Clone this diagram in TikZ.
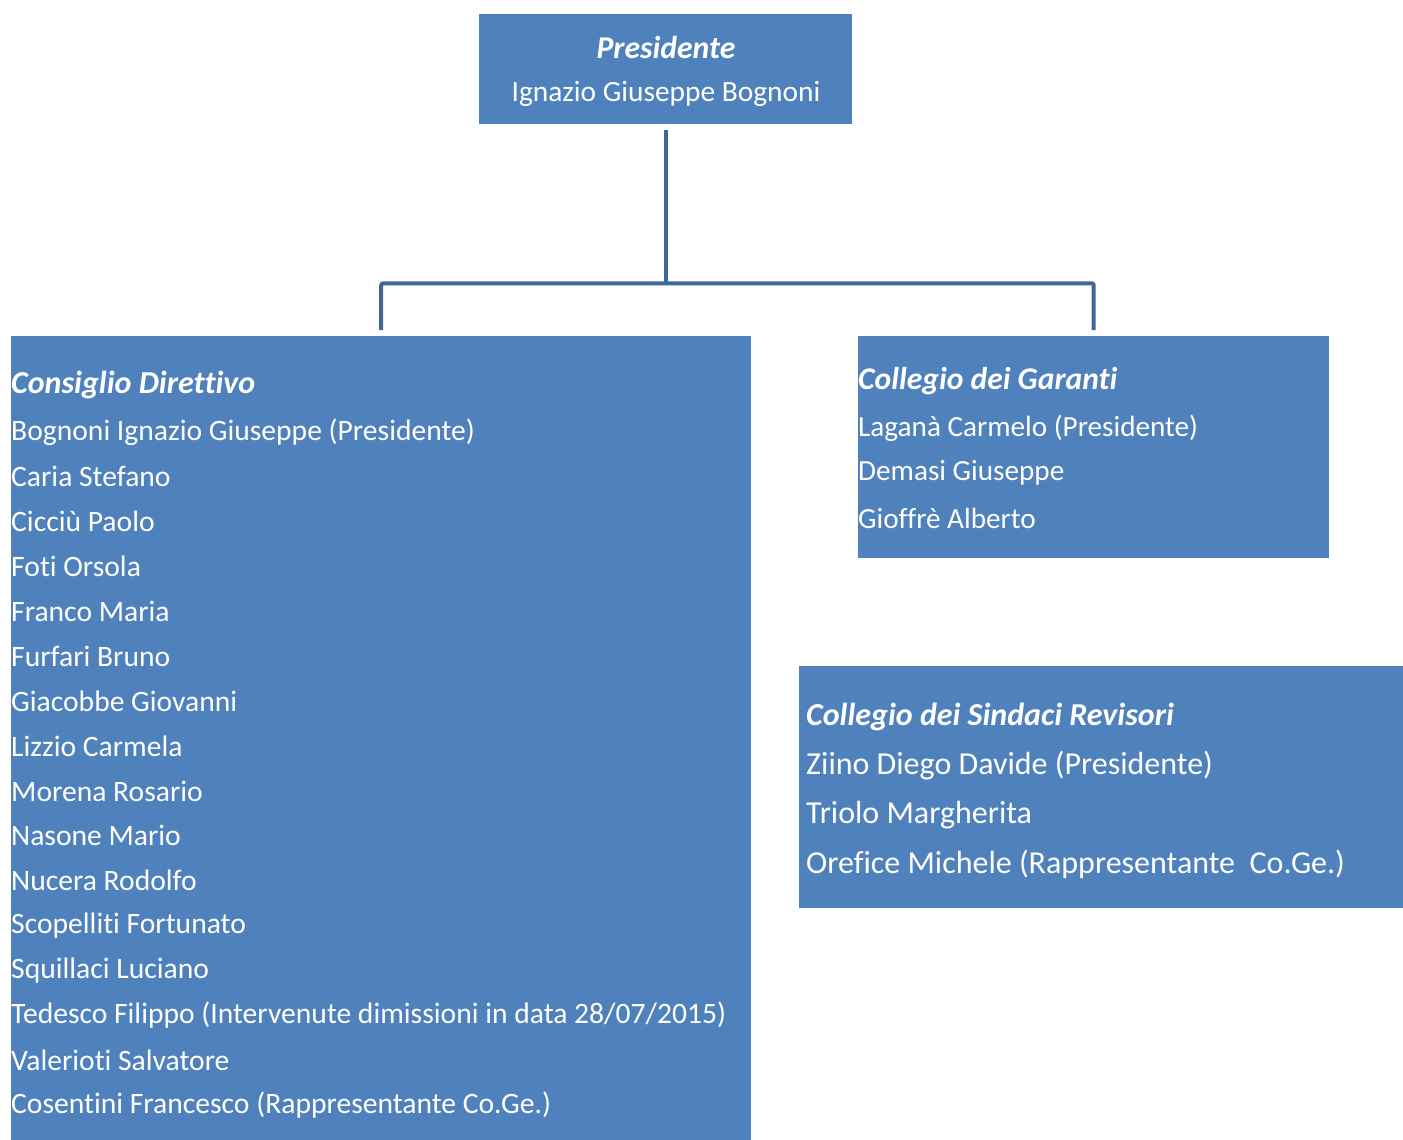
\documentclass[tikz,border=0pt]{standalone}
\usepackage{fontspec}
\setmainfont[Ligatures=NoCommon]{Carlito}
\definecolor{boxblue}{HTML}{4F81BD}
\definecolor{lineblue}{HTML}{3F6898}
\newcommand{\fsz}[1]{\fontsize{#1}{#1}\selectfont}
\begin{document}
\begin{tikzpicture}[x=1pt,y=-1pt,
  box/.style={fill=boxblue, draw=none, inner sep=0pt, anchor=north west},
  txt/.style={text=white, inner sep=0pt, anchor=west, font=\fsz{29.5}},
  ttl/.style={text=white, inner sep=0pt, anchor=west, font=\fsz{32}\bfseries\itshape},
  conn/.style={draw=lineblue, line width=4pt, rounded corners=2pt}]
\useasboundingbox (0,0) rectangle (1403,1140);
% boxes
\node[box, minimum width=373pt, minimum height=110pt] (pres) at (479,14) {};
\node[box, minimum width=740pt, minimum height=804pt] (cons) at (11,336) {};
\node[box, minimum width=471pt, minimum height=222pt] (gar) at (858,336) {};
\node[box, minimum width=604pt, minimum height=242pt] (sind) at (799,666) {};
% president text
\node[ttl, anchor=center, font=\fsz{31.7}\bfseries\itshape] (pt) at (666,47) {Presidente};
\node[txt, anchor=center, font=\fsz{29.4}] (pn) at (666,94) {Ignazio Giuseppe Bognoni};
% connectors
\path (pres.south) ++(0,159) coordinate (bus);
\draw[conn] ([yshift=-6pt]pres.south) -- (bus);
\draw[conn] ([yshift=6pt]cons.north) |- (bus) -| ([yshift=6pt]gar.north);
% Consiglio Direttivo
\node[ttl] (c0) at (11,385) {Consiglio Direttivo};
\foreach \t [count=\i from 0] in {
  Bognoni Ignazio Giuseppe (Presidente),
  Caria Stefano,
  Cicciù Paolo,
  Foti Orsola,
  Franco Maria,
  Furfari Bruno,
  Giacobbe Giovanni,
  Lizzio Carmela,
  Morena Rosario,
  Nasone Mario,
  Nucera Rodolfo,
  Scopelliti Fortunato,
  Squillaci Luciano,
  Tedesco Filippo (Intervenute dimissioni in data 28/07/2015),
  Valerioti Salvatore,
  Cosentini Francesco (Rappresentante Co.Ge.)}
  \node[txt, font=\fsz{29.6}] (c\i x) at (11,432+44.87*\i) {\t};
% Collegio dei Garanti
\node[ttl, font=\fsz{31.6}\bfseries\itshape] (g0) at (858,381) {Collegio dei Garanti};
\node[txt, font=\fsz{29.2}] (g1) at (858,428) {Laganà Carmelo (Presidente)};
\node[txt, font=\fsz{29.2}] (g2) at (858,473) {Demasi Giuseppe};
\node[txt, font=\fsz{29.2}] (g3) at (858,518) {Gioffrè Alberto};
% Collegio dei Sindaci Revisori
\node[ttl, font=\fsz{32}\bfseries\itshape] (s0) at (806,717) {Collegio dei Sindaci Revisori};
\node[txt, font=\fsz{32}] (s1) at (806,766) {Ziino Diego Davide (Presidente)};
\node[txt, font=\fsz{32}] (s2) at (806,815) {Triolo Margherita};
\node[txt, font=\fsz{32}] (s3) at (806,864) {Orefice Michele (Rappresentante\ \ Co.Ge.)};
\end{tikzpicture}
\end{document}
